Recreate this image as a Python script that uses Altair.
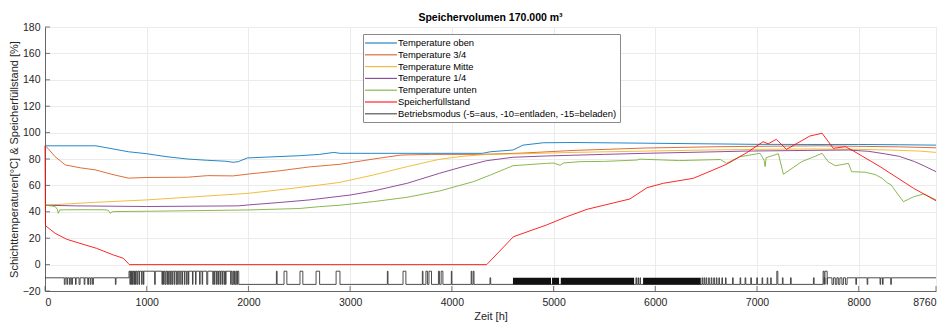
import altair as alt
import pandas as pd

FONT = "Liberation Sans"

series_names = [
    "Temperature oben", "Temperature 3/4", "Temperature Mitte", "Temperature 1/4",
    "Temperature unten", "Speicherfüllstand",
    "Betriebsmodus (-5=aus, -10=entladen, -15=beladen)",
]
series_colors = ["#0072BD", "#D95319", "#EDB120", "#7E2F8E", "#77AC30", "#FF0000", "#3a3a3a"]

oben_x = [0, 500, 820, 1000, 1200, 1400, 1600, 1780, 1850, 1900, 1990, 2200, 2500, 2700, 2840, 2900,
          3200, 3600, 4000, 4300, 4380, 4600, 4700, 4900, 5200, 5600, 6000, 6500, 7000, 7500, 8000, 8400, 8760]
oben_y = [90, 90, 85.5, 84, 81.7, 80, 79, 78.3, 77.5, 78, 80.8, 81.5, 82.5, 83.5, 85, 84.3,
          84.3, 84.3, 84.3, 84.3, 85.5, 86.8, 90.5, 92.3, 92.5, 92.2, 91.9, 91.5, 91.1, 91, 91, 90.8, 90.5]

t34_x = [0, 30, 100, 200, 350, 500, 650, 820, 1000, 1400, 1600, 1850, 2000, 2300, 2600, 2900, 3230,
         3500, 3800, 4300, 4700, 5200, 5900, 6600, 7000, 7600, 8000, 8400, 8760]
t34_y = [90, 88, 81.7, 75.5, 73.3, 71.7, 68.5, 65.5, 66, 66.2, 67.4, 67.2, 68.6, 71, 74, 76, 80,
         83, 83.5, 83.5, 84.5, 86.5, 88.3, 89.3, 89.6, 90, 89.6, 89.2, 88.5]

mitte_x = [0, 500, 1000, 1500, 2000, 2400, 2700, 2900, 3230, 3560, 3880, 4100, 4340, 4700, 5200,
           5900, 6500, 7000, 7550, 8000, 8300, 8600, 8760]
mitte_y = [45, 47.2, 49, 51.5, 54, 57.5, 60.3, 62.3, 67.9, 74.2, 79.8, 82, 83.5, 84, 85,
           86, 86.8, 87.3, 87.6, 87.3, 86.8, 86, 85]

t14_x = [0, 300, 1000, 1900, 2000, 2300, 2600, 3000, 3230, 3560, 3880, 4100, 4340, 4600, 4930,
         5500, 5900, 6500, 6900, 7500, 7900, 8100, 8250, 8400, 8550, 8650, 8760]
t14_y = [45, 44.5, 44, 44.5, 45.2, 47, 49, 52.7, 55.8, 61.6, 69.2, 74, 78.7, 81.3, 82.3,
         83.5, 84.3, 85.3, 86, 86.5, 86.8, 85.8, 84, 82, 78, 74.5, 70.4]

unten_x = [0, 60, 100, 120, 131, 145, 200, 400, 600, 625, 640, 660, 690, 1000, 2000, 2500, 2700,
           2900, 3230, 3560, 3880, 4210, 4380, 4600, 4930, 5000, 5064, 5100, 5260, 5500, 5820, 5850,
           6240, 6640, 6700, 6830, 7030, 7070, 7080, 7090, 7210, 7260, 7440, 7570, 7640, 7700, 7770,
           7900, 7930, 8060, 8160, 8230, 8280, 8320, 8390, 8440, 8490, 8540, 8640, 8680, 8760]
unten_y = [45, 44.5, 44, 42, 38.9, 41.4, 41.5, 41.6, 41.5, 41, 38.9, 40, 40.2, 40.4, 41.4, 42.5, 43.9,
           45, 47.7, 51, 55.8, 62.8, 67.9, 74.9, 76.7, 76.9, 75.3, 77, 78, 78.2, 79.2, 79.9,
           78.8, 79.6, 76.7, 81.7, 84.3, 79, 74.2, 81, 84, 68.4, 78, 82, 84.3, 78, 74.9,
           76.7, 70.4, 70, 68.3, 65.4, 62, 60.3, 52.7, 47.7, 49.5, 51.4, 53.5, 52, 49]

fuell_x = [0, 5, 100, 213, 344, 508, 672, 770, 829, 4343, 4605, 4930, 5130, 5330, 5750, 5920, 6080,
           6375, 6570, 6700, 6900, 7060, 7110, 7190, 7290, 7520, 7640, 7750, 7870, 7950, 8210, 8540, 8760]
fuell_y = [90, 29.5, 23.7, 19.2, 16.1, 12.3, 7.3, 4.8, 0, 0, 21.1, 30, 36.3, 41.9, 49.7, 58.3, 61.6,
           65.4, 71.7, 76, 84.8, 93.1, 91.5, 94.9, 87.3, 97.4, 99.5, 88.1, 89.3, 86, 74.2, 57.8, 48.4]

# Betriebsmodus: base level changes and short pulses (start, end, level)
mode_base_t = [0, 826, 1905, 7692]
mode_base_v = [-10, -5, -15, -10]
mode_pulses = [
    (190, 198, -15), (215, 222, -15), (240, 248, -15), (262, 270, -15), (300, 306, -15),
    (335, 345, -15), (385, 392, -15), (420, 428, -15), (445, 452, -15), (468, 476, -15), (692, 698, -15),
    (835, 840, -15), (848, 852, -15), (860, 866, -15), (875, 880, -15), (890, 895, -15), (905, 912, -15),
    (925, 930, -15), (950, 955, -15), (968, 972, -15), (1078, 1084, -15), (1150, 1155, -15),
    (1165, 1170, -15), (1180, 1188, -15), (1200, 1204, -15), (1215, 1222, -15), (1235, 1240, -15),
    (1250, 1256, -15), (1270, 1275, -15), (1290, 1296, -15), (1305, 1310, -15), (1325, 1330, -15),
    (1345, 1352, -15), (1370, 1375, -15), (1390, 1398, -15), (1410, 1414, -15), (1450, 1455, -15),
    (1480, 1485, -15), (1520, 1525, -15), (1545, 1550, -15), (1590, 1600, -15), (1650, 1655, -15),
    (1665, 1670, -15), (1685, 1690, -15), (1700, 1706, -15), (1720, 1726, -15), (1740, 1746, -15),
    (1760, 1766, -15), (1775, 1780, -15), (1825, 1830, -15), (1840, 1850, -15), (1858, 1862, -15),
    (1870, 1880, -15), (1888, 1892, -15),
    (2275, 2282, -5), (2350, 2378, -5), (2507, 2535, -5), (2665, 2700, -5), (2862, 2900, -5),
    (3366, 3372, -5), (3520, 3548, -5), (3710, 3716, -5), (3745, 3760, -5), (3775, 3800, -5),
    (3868, 3878, -5), (3895, 3912, -5), (3995, 4000, -5), (4190, 4196, -5), (4210, 4218, -5),
    (4375, 4382, -10),
    (5810, 5815, -10), (5830, 5835, -10), (5850, 5855, -10), (6460, 6466, -10), (6480, 6486, -10),
    (6500, 6506, -10), (6525, 6531, -10), (6550, 6556, -10), (6575, 6581, -10), (6600, 6606, -10),
    (6625, 6631, -10), (6655, 6661, -10), (6690, 6696, -10), (6760, 6766, -10), (6834, 6840, -10),
    (6883, 6890, -10), (6939, 6945, -10), (6998, 7004, -10), (7050, 7056, -10), (7100, 7106, -10),
    (7135, 7140, -10), (7195, 7205, -5), (7250, 7256, -10), (7330, 7336, -10), (7555, 7562, -10),
    (7650, 7660, -5), (7660, 7668, -10), (7668, 7690, -5),
    (7737, 7752, -15), (7770, 7785, -15), (7800, 7815, -15), (7835, 7850, -15), (7870, 7886, -15),
    (7972, 7978, -15), (8083, 8089, -15), (8210, 8216, -15), (8234, 8240, -15), (8315, 8321, -15),
]
# spans of very rapid switching between -15 and -10 (drawn as solid blocks)
dense_start = [4601, 4985, 5071, 5880]
dense_end = [4975, 5054, 5792, 6447]

x_ticks = [0, 1000, 2000, 3000, 4000, 5000, 6000, 7000, 8000, 8760]
y_ticks = [-20, 0, 20, 40, 60, 80, 100, 120, 140, 160, 180]

# ---- build tables
rows = []
for name, xs_, ys_ in zip(series_names[:6],
                          [oben_x, t34_x, mitte_x, t14_x, unten_x, fuell_x],
                          [oben_y, t34_y, mitte_y, t14_y, unten_y, fuell_y]):
    for i, (a, b) in enumerate(zip(xs_, ys_)):
        rows.append({"series": name, "x": a, "y": b, "i": i})
lines_df = pd.DataFrame(rows)


def base_at(t):
    v = mode_base_v[0]
    for bt, bv in zip(mode_base_t, mode_base_v):
        if bt <= t:
            v = bv
    return v


pts = [(t, v) for t, v in zip(mode_base_t, mode_base_v)]
for s, e, l in mode_pulses:
    pts.append((s, l))
    pts.append((e, base_at(s)))
pts.append((8760, base_at(8760)))
pts.sort(key=lambda p: p[0])
mode_df = pd.DataFrame({"series": series_names[6], "x": [p[0] for p in pts],
                        "y": [p[1] for p in pts], "i": list(range(len(pts)))})

dense_df = pd.DataFrame({"x": dense_start, "x2": dense_end, "lo": -15, "hi": -10})

color = alt.Color("series:N", scale=alt.Scale(domain=series_names, range=series_colors),
                  legend=alt.Legend(
                      title=None, orient="none", legendX=318, legendY=7, direction="vertical",
                      symbolType="M-5.4,0H1", symbolSize=100, symbolStrokeWidth=1.2,
                      symbolOffset=20,
                      labelFont=FONT, labelFontSize=9.4, labelColor="#000000", labelLimit=400,
                      padding=3, rowPadding=0.8, strokeColor="#8a8a8a", fillColor="white",
                      labelOffset=0, offset=0))

xs = alt.Scale(domain=[0, 8760], nice=False, zero=False)
ys = alt.Scale(domain=[-20, 180], nice=False)

x_axis = alt.Axis(values=x_ticks, title="Zeit [h]", grid=True, tickSize=0, labelPadding=6,
                  titlePadding=3, format="d", labelOverlap=False)
y_axis = alt.Axis(values=y_ticks, title="Schichttemperaturen[°C] & Speicherfüllstand [%]",
                  grid=True, tickSize=0, labelPadding=5, titlePadding=3, format="d",
                  labelOverlap=False)

temp_lines = alt.Chart(lines_df).mark_line(strokeWidth=1, opacity=0.85).encode(
    x=alt.X("x:Q", scale=xs, axis=x_axis),
    y=alt.Y("y:Q", scale=ys, axis=y_axis),
    color=color,
    order="i:Q",
)

mode_line = alt.Chart(mode_df).mark_line(strokeWidth=0.9, interpolate="step-after").encode(
    x=alt.X("x:Q", scale=xs, axis=x_axis),
    y=alt.Y("y:Q", scale=ys, axis=y_axis),
    color=color,
    order="i:Q",
)

dense = alt.Chart(dense_df).mark_rect(color="#111111").encode(
    x=alt.X("x:Q", scale=xs, axis=x_axis), x2="x2:Q",
    y=alt.Y("lo:Q", scale=ys, axis=y_axis), y2="hi:Q",
)

ytick_df = pd.DataFrame({"v": y_ticks})
xtick_df = pd.DataFrame({"v": x_ticks})
yticks = alt.Chart(ytick_df).mark_rule(color="#555555", strokeWidth=0.8).encode(
    y=alt.Y("v:Q", scale=ys, axis=y_axis), x=alt.value(0), x2=alt.value(5))
xticks = alt.Chart(xtick_df).mark_rule(color="#555555", strokeWidth=0.8).encode(
    x=alt.X("v:Q", scale=xs, axis=x_axis), y=alt.value(264), y2=alt.value(259))

chart = alt.layer(temp_lines, mode_line, dense, yticks, xticks).properties(
    width=891, height=264,
    title=alt.TitleParams(text="Speichervolumen 170.000 m³", fontSize=10.5, fontWeight="bold",
                          font=FONT, color="#000000", anchor="middle", offset=4, dy=5),
    padding={"left": 37, "top": 19, "right": 2, "bottom": 34},
    autosize=alt.AutoSizeParams(type="none"),
).configure_axis(
    labelFont=FONT, labelFontSize=10.5, labelColor="#262626",
    titleFont=FONT, titleFontSize=11, titleFontWeight="normal", titleColor="#262626",
    gridColor="#ebebeb", gridWidth=1, domainColor="#666666", domainWidth=1,
).configure_view(stroke=None)

chart.save("out.html", embed_options={"renderer": "svg", "actions": False})
